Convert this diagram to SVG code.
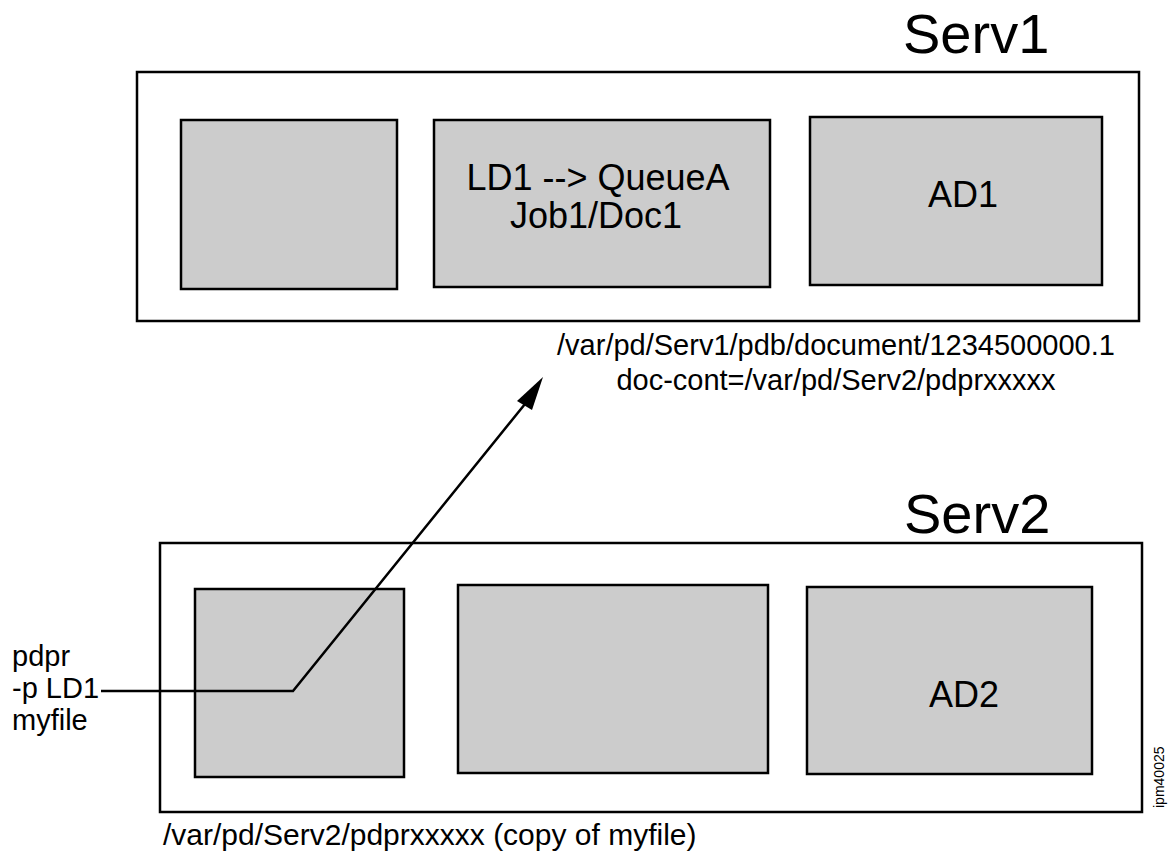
<svg xmlns="http://www.w3.org/2000/svg" width="1170" height="859" viewBox="0 0 1170 859">
<style>
.outer{fill:#ffffff;stroke:#000;stroke-width:2.5}
.inner{fill:#cccccc;stroke:#000;stroke-width:2.5}
text{font-family:"Liberation Sans",Arial,sans-serif;fill:#000}
.title{font-size:56px}
.big{font-size:36px;text-anchor:middle}
.lbl{font-size:29px}
.lbl30{font-size:30px}
.conn{fill:none;stroke:#000;stroke-width:2.5}
</style>
<rect width="1170" height="859" fill="#fff"/>
<g id="serv1">
<rect class="outer" x="137" y="72" width="1002" height="249"/>
<text class="title" x="903" y="53">Serv1</text>
</g>
<g id="serv1-box1"><rect class="inner" x="181" y="120" width="216" height="169"/></g>
<g id="serv1-ld1">
<rect class="inner" x="434" y="120" width="336" height="167"/>
<text class="big" x="598" y="190">LD1 --&gt; QueueA</text>
<text class="big" x="596" y="228">Job1/Doc1</text>
</g>
<g id="serv1-ad1">
<rect class="inner" x="810" y="117" width="292" height="168"/>
<text class="big" x="963" y="207">AD1</text>
</g>
<g id="serv1-path">
<text class="lbl" x="836" y="355" text-anchor="middle">/var/pd/Serv1/pdb/document/1234500000.1</text>
<text class="lbl" x="836" y="390" text-anchor="middle">doc-cont=/var/pd/Serv2/pdprxxxxx</text>
</g>
<g id="serv2">
<rect class="outer" x="160" y="543" width="982" height="269"/>
<text class="title" x="904" y="533">Serv2</text>
</g>
<g id="serv2-box1"><rect class="inner" x="195" y="589" width="209" height="188"/></g>
<g id="serv2-box2"><rect class="inner" x="458" y="585" width="310" height="188"/></g>
<g id="serv2-ad2">
<rect class="inner" x="807" y="587" width="285" height="187"/>
<text class="big" x="964" y="707">AD2</text>
</g>
<g id="cmd">
<text class="lbl" x="12" y="666">pdpr</text>
<text class="lbl" x="12" y="698">-p LD1</text>
<text class="lbl" x="12" y="730">myfile</text>
</g>
<g id="serv2-path">
<text class="lbl30" x="163" y="845">/var/pd/Serv2/pdprxxxxx (copy of myfile)</text>
</g>
<g id="connectors">
<polyline class="conn" points="101,691 293,691 525,404"/>
<polygon points="543,377 517,401 532,410" fill="#000"/>
</g>
<text x="0" y="0" font-size="14" transform="translate(1164,808) rotate(-90)">ipm40025</text>
</svg>
